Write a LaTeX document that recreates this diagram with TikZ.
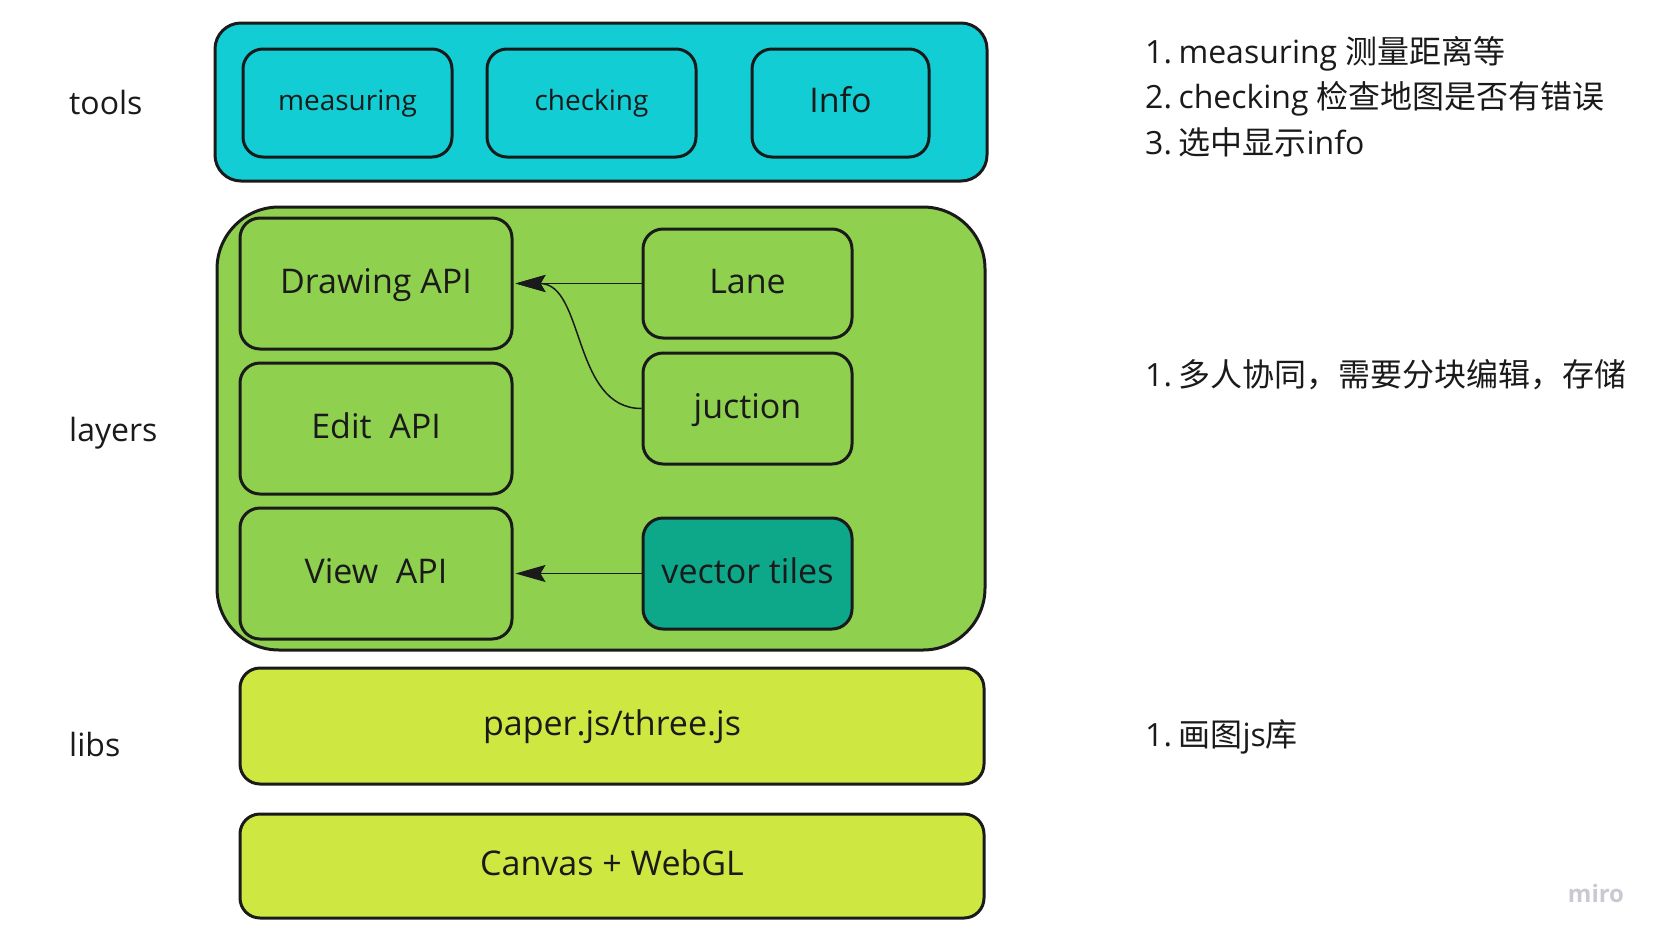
\documentclass[tikz,border=0pt]{standalone}
\usepackage{fontspec}
\setmainfont{Open Sans}
\newfontfamily\cjk{Noto Sans CJK SC}
\usetikzlibrary{arrows.meta}
\definecolor{toolcyan}{HTML}{13CDD4}
\definecolor{layergreen}{HTML}{8FD14F}
\definecolor{libyellow}{HTML}{CEE741}
\definecolor{tealbox}{HTML}{0DA789}
\definecolor{ink}{HTML}{1A1A1A}
\definecolor{mirogray}{HTML}{C9C9D2}
\newcommand{\numgap}{\hspace{6.5pt}}
\tikzset{
  box/.style={draw=ink, line width=3pt, rounded corners=20pt, inner sep=0pt,
    text=ink, align=center},
  bigtext/.style={font=\fontsize{34}{40}\selectfont, text height=24.8pt, text depth=5.8pt},
  smalltext/.style={font=\fontsize{28}{34}\selectfont, text height=20.4pt, text depth=4.8pt},
  sidelabel/.style={anchor=base west, text=ink, inner sep=0pt, font=\fontsize{32}{38}\selectfont},
  note/.style={anchor=base west, text=ink, inner sep=0pt, font=\fontsize{32}{38}\selectfont},
  conn/.style={draw=ink, line width=1.5pt, -{Stealth[length=30pt,width=17pt,inset=5pt]}},
}
\begin{document}
\begin{tikzpicture}[x=1pt,y=-1pt]
\useasboundingbox (0,0) rectangle (1661,940);
% tools
\node[box, fill=toolcyan, rounded corners=26pt, minimum width=772pt, minimum height=158pt] (toolsbox) at (601,102) {};
\node[box, fill=toolcyan, smalltext, minimum width=209pt, minimum height=108pt] (measuring) at (347.5,103) {measuring};
\node[box, fill=toolcyan, smalltext, minimum width=209pt, minimum height=108pt] (checking) at (591.5,103) {checking};
\node[box, fill=toolcyan, bigtext, minimum width=177pt, minimum height=108pt] (info) at (840.5,103) {Info};
% layers
\node[box, fill=layergreen, rounded corners=62pt, minimum width=768pt, minimum height=443pt] (layersbox) at (601,428.5) {};
\node[box, fill=layergreen, bigtext, minimum width=272pt, minimum height=131pt] (drawing) at (376,283.5) {Drawing API};
\node[box, fill=layergreen, bigtext, minimum width=272pt, minimum height=131pt] (edit) at (376,428.5) {Edit\ \ API};
\node[box, fill=layergreen, bigtext, minimum width=272pt, minimum height=131pt] (view) at (376,573.5) {View\ \ API};
\node[box, fill=layergreen, bigtext, minimum width=209pt, minimum height=109pt] (lane) at (747.5,283.5) {Lane};
\node[box, fill=layergreen, bigtext, minimum width=209pt, minimum height=111pt] (juction) at (747.5,408.5) {juction};
\node[box, fill=tealbox, bigtext, minimum width=209pt, minimum height=111pt] (vtiles) at (747.5,573.5) {vector tiles};
% libs
\node[box, fill=libyellow, bigtext, minimum width=744pt, minimum height=116pt] (paper) at (612,726) {paper.js/three.js};
\node[box, fill=libyellow, bigtext, minimum width=744pt, minimum height=104pt] (canvas) at (612,866) {Canvas + WebGL};
% connectors
\draw[conn] (lane.west) -- ([xshift=2pt]drawing.east);
\draw[conn] (juction.west) to[out=180,in=0] ([xshift=2pt]drawing.east);
\draw[conn] (vtiles.west) -- ([xshift=2pt]view.east);
% side labels
\node[sidelabel] (ltools) at (69,114) {tools};
\node[sidelabel] (llayers) at (69,441) {layers};
\node[sidelabel] (llibs) at (69,756) {libs};
% notes
\node[note] (n1) at (1145,63) {1.\numgap measuring {\cjk 测量距离等}};
\node[note] (n2) at (1145,108.5) {2.\numgap checking {\cjk 检查地图是否有错误}};
\node[note] (n3) at (1145,154) {3.\numgap{\cjk 选中显示}info};
\node[note] (n4) at (1145,386) {1.\numgap{\cjk 多人协同，需要分块编辑，存储}};
\node[note] (n5) at (1145,746) {1.\numgap{\cjk 画图}js{\cjk 库}};
\node[text=mirogray, font=\fontsize{24}{28}\selectfont\bfseries, inner sep=0pt] (miro) at (1596,893) {miro};
\end{tikzpicture}
\end{document}
